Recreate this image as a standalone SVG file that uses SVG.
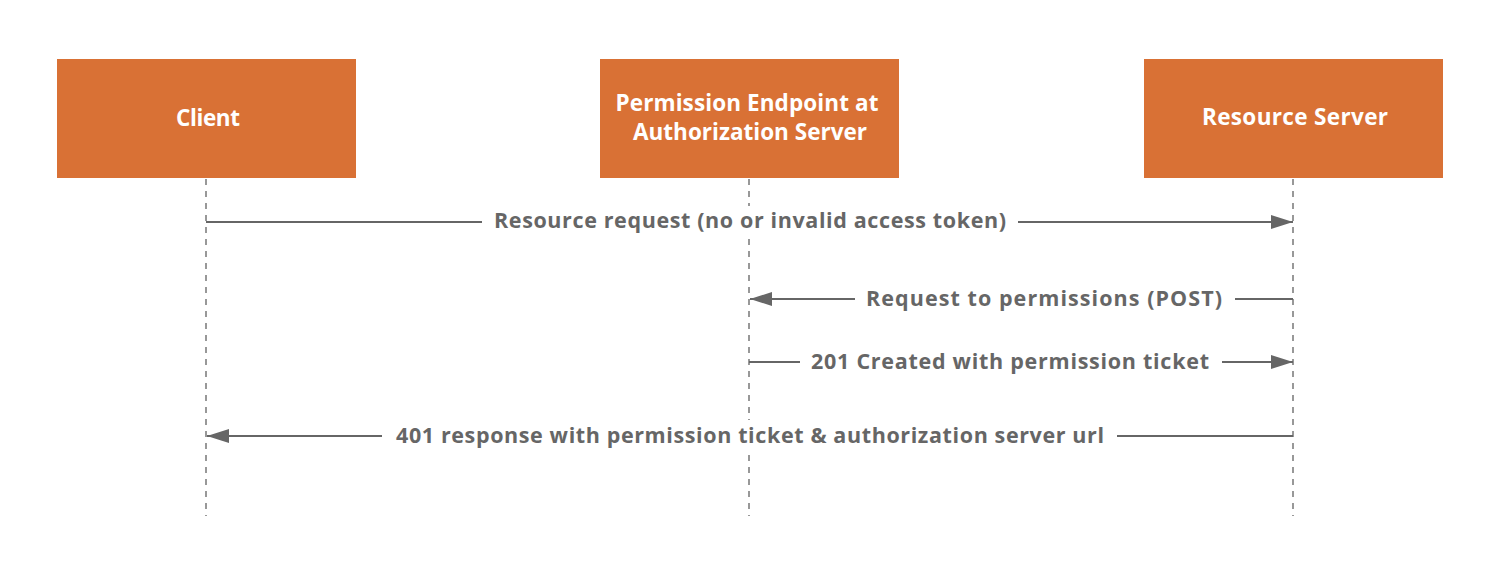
<svg xmlns="http://www.w3.org/2000/svg" width="1504" height="588" viewBox="0 0 1504 588">
<style>
.box{fill:#D97135}
.bt{font-family:"Open Sans",Lato,sans-serif;font-weight:bold;font-size:22.5px;fill:#fff;text-anchor:middle}
.life{stroke:#777;stroke-width:1.5;stroke-dasharray:6 6;fill:none}
.msg{stroke:#666;stroke-width:2;fill:none}
.lt{font-family:"Open Sans",Lato,sans-serif;font-weight:bold;font-size:21.5px;fill:#666;text-anchor:middle}
.bg{fill:#fff}
</style>
<defs>
<marker id="ah" markerWidth="22" markerHeight="14" refX="22" refY="7" orient="auto" markerUnits="userSpaceOnUse">
<path d="M0,0 L22,7 L0,14 Z" fill="#666"/>
</marker>
</defs>
<rect width="1504" height="588" fill="#fff"/>
<g id="lifelines">
<line class="life" x1="206" y1="179" x2="206" y2="516"/>
<line class="life" x1="749" y1="179" x2="749" y2="516"/>
<line class="life" x1="1293" y1="179" x2="1293" y2="516"/>
</g>
<g id="client"><rect class="box" x="57" y="59" width="299" height="119"/><text class="bt" x="208" y="126" textLength="64">Client</text></g>
<g id="permission"><rect class="box" x="600" y="59" width="299" height="119"/><text class="bt" x="747" y="111" textLength="263">Permission Endpoint at</text><text class="bt" x="750" y="140" textLength="234">Authorization Server</text></g>
<g id="resource"><rect class="box" x="1144" y="59" width="299" height="119"/><text class="bt" x="1295" y="125" textLength="186">Resource Server</text></g>
<g id="connectors">
<line class="msg" x1="206" y1="222" x2="482" y2="222"/>
<line class="msg" x1="1018" y1="222" x2="1293" y2="222" marker-end="url(#ah)"/>
<rect class="bg" x="488" y="206" width="524" height="30"/>
<text class="lt" x="750" y="228" textLength="512">Resource request (no or invalid access token)</text>
<line class="msg" x1="1293" y1="299" x2="1235" y2="299"/>
<line class="msg" x1="855" y1="299" x2="750" y2="299" marker-end="url(#ah)"/>
<text class="lt" x="1044" y="306" textLength="356">Request to permissions (POST)</text>
<line class="msg" x1="749" y1="362" x2="800" y2="362"/>
<line class="msg" x1="1222" y1="362" x2="1293" y2="362" marker-end="url(#ah)"/>
<text class="lt" x="1010" y="369" textLength="398">201 Created with permission ticket</text>
<line class="msg" x1="1293" y1="436" x2="1117" y2="436"/>
<line class="msg" x1="382" y1="436" x2="207" y2="436" marker-end="url(#ah)"/>
<rect class="bg" x="390" y="420" width="720" height="30"/>
<text class="lt" x="750" y="443" textLength="708">401 response with permission ticket &amp; authorization server url</text>
</g>
</svg>
